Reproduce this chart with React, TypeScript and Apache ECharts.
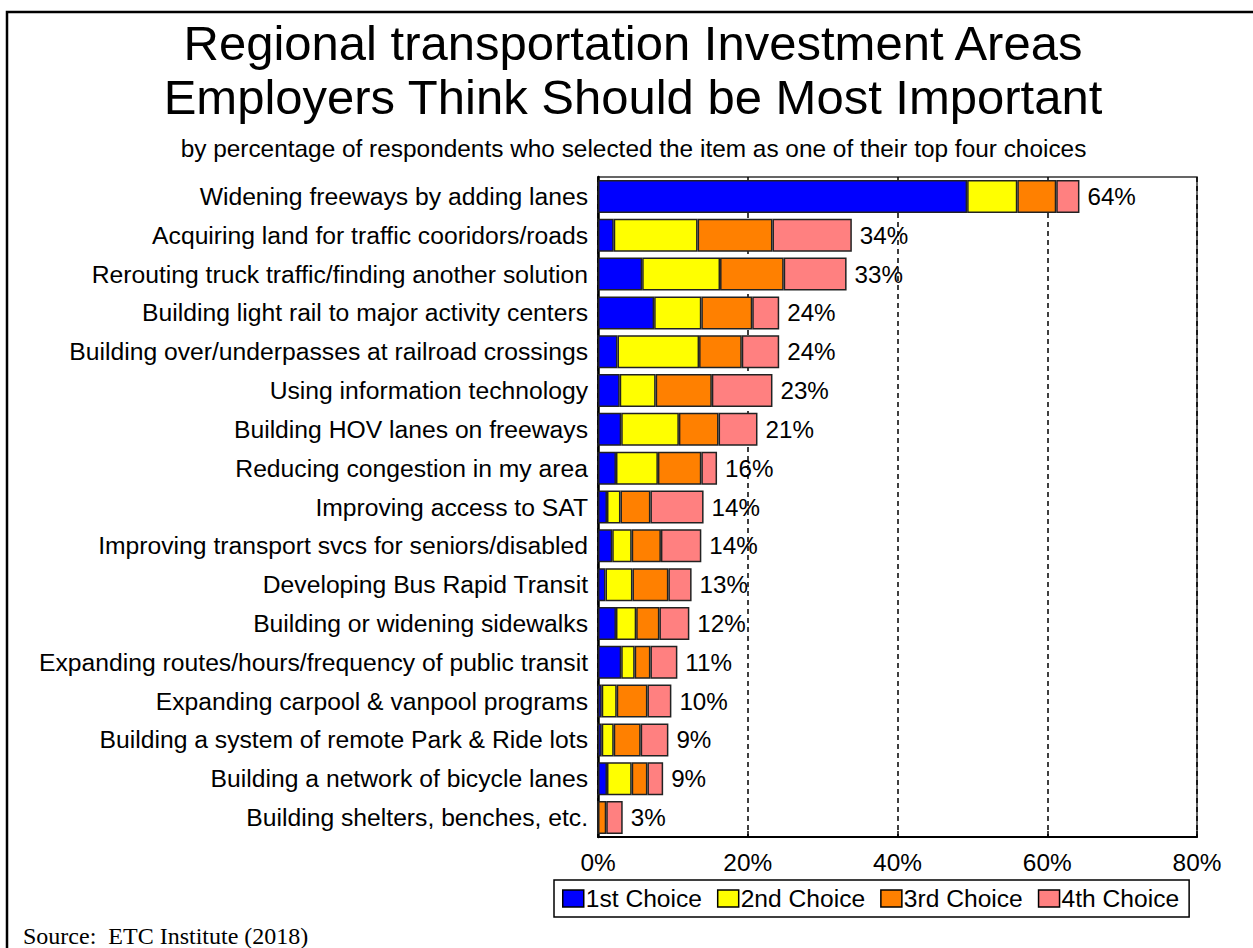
import React, { useEffect, useRef } from "react";
import * as echarts from "echarts";

const categories = [
  "Widening freeways by adding lanes",
  "Acquiring land for traffic cooridors/roads",
  "Rerouting truck traffic/finding another solution",
  "Building light rail to major activity centers",
  "Building over/underpasses at railroad crossings",
  "Using information technology",
  "Building HOV lanes on freeways",
  "Reducing congestion in my area",
  "Improving access to SAT",
  "Improving transport svcs for seniors/disabled",
  "Developing Bus Rapid Transit",
  "Building or widening sidewalks",
  "Expanding routes/hours/frequency of public transit",
  "Expanding carpool & vanpool programs",
  "Building a system of remote Park & Ride lots",
  "Building a network of bicycle lanes",
  "Building shelters, benches, etc.",
];

const firstChoice = [49.3, 2.1, 5.9, 7.5, 2.6, 2.9, 3.1, 2.4, 1.2, 1.9, 1.0, 2.4, 3.1, 0.5, 0.5, 1.2, 0];
const secondChoice = [6.7, 11.2, 10.4, 6.3, 10.9, 4.8, 7.7, 5.6, 1.8, 2.6, 3.6, 2.7, 1.8, 2.0, 1.6, 3.3, 0];
const thirdChoice = [5.2, 10.0, 8.5, 6.8, 5.7, 7.5, 5.3, 5.8, 4.0, 3.9, 4.8, 3.1, 2.1, 4.1, 3.6, 2.1, 1.1];
const fourthChoice = [3.1, 10.6, 8.4, 3.6, 5.0, 8.1, 5.2, 2.1, 7.1, 5.4, 3.1, 4.0, 3.6, 3.2, 3.7, 2.1, 2.2];
const totals = [64, 34, 33, 24, 24, 23, 21, 16, 14, 14, 13, 12, 11, 10, 9, 9, 3];

const seriesNames = ["1st Choice", "2nd Choice", "3rd Choice", "4th Choice"];
const seriesColors = ["#0000FF", "#FFFF00", "#FF8000", "#FF8080"];
const xTicks = [0, 20, 40, 60, 80];

const titleLines = [
  "Regional transportation Investment Areas",
  "Employers Think Should be Most Important",
];
const subtitle = "by percentage of respondents who selected the item as one of their top four choices";
const sourceText = "Source:  ETC Institute (2018)";

const FONT = "'Liberation Sans', Arial, sans-serif";

export default function App() {
  const ref = useRef<HTMLDivElement>(null);
  useEffect(() => {
    document.body.style.margin = "0";
    if (!ref.current) return;
    const chart = echarts.init(ref.current, null, { renderer: "svg" });
    const values = [firstChoice, secondChoice, thirdChoice, fourthChoice];
    const option: any = {
      animation: false,
      backgroundColor: "#ffffff",
      textStyle: { fontFamily: FONT },
      graphic: [
        {
          type: "rect",
          shape: { x: 7, y: 12, width: 1400, height: 1100 },
          style: { fill: "none", stroke: "#000", lineWidth: 2.5 },
          silent: true,
          z: 100,
        },
        {
          type: "text",
          x: 633,
          y: 43,
          style: {
            text: titleLines[0],
            font: `49px ${FONT}`,
            fill: "#000",
            textAlign: "center",
            textVerticalAlign: "middle",
          },
        },
        {
          type: "text",
          x: 633,
          y: 96.5,
          style: {
            text: titleLines[1],
            font: `49px ${FONT}`,
            fill: "#000",
            textAlign: "center",
            textVerticalAlign: "middle",
          },
        },
        {
          type: "text",
          x: 633.5,
          y: 148,
          style: {
            text: subtitle,
            font: `24.4px ${FONT}`,
            fill: "#000",
            textAlign: "center",
            textVerticalAlign: "middle",
          },
        },
        {
          type: "text",
          x: 23,
          y: 936,
          style: {
            text: sourceText,
            font: `24px 'Liberation Serif', 'Times New Roman', serif`,
            fill: "#000",
            textAlign: "left",
            textVerticalAlign: "middle",
          },
        },
      ],
      legend: {
        data: seriesNames,
        left: 554,
        top: 880,
        orient: "horizontal",
        padding: [6, 10, 6, 8],
        itemGap: 15,
        itemWidth: 21,
        itemHeight: 17,
        icon: "rect",
        borderColor: "#000",
        borderWidth: 1.5,
        backgroundColor: "#fff",
        textStyle: { fontSize: 24.6, color: "#000", fontFamily: FONT, padding: [0, 0, 0, -3] },
        itemStyle: { borderColor: "#000", borderWidth: 1.5 },
        selectedMode: false,
      },
      grid: {
        left: 598,
        right: 56,
        top: 177,
        bottom: 111,
        show: true,
        borderColor: "#333",
        borderWidth: 1.5,
        backgroundColor: "transparent",
        outerBoundsMode: "none",
      },
      xAxis: {
        type: "value",
        min: xTicks[0],
        max: xTicks[xTicks.length - 1],
        interval: 20,
        axisLine: { show: true, lineStyle: { color: "#000", width: 2 } },
        axisTick: { show: true, inside: true, length: 6, lineStyle: { color: "#000", width: 1.5 } },
        axisLabel: {
          formatter: "{value}%",
          fontSize: 24.4,
          color: "#000",
          margin: 13,
          fontFamily: FONT,
        },
        splitLine: { show: true, lineStyle: { color: "#000", type: [5, 4], width: 1.5 } },
      },
      yAxis: {
        type: "category",
        data: categories,
        inverse: true,
        axisLine: { show: true, lineStyle: { color: "#000", width: 2.5 } },
        axisTick: { show: false },
        axisLabel: { fontSize: 24.7, color: "#000", margin: 10, fontFamily: FONT },
        splitLine: { show: false },
      },
      series: seriesNames.map((name, i) => ({
        name,
        type: "bar",
        stack: "total",
        barWidth: 33,
        data: values[i],
        itemStyle: { color: seriesColors[i], borderColor: "#222", borderWidth: 1.5 },
        label:
          i === 3
            ? {
                show: true,
                position: "right",
                distance: 8,
                fontSize: 24.2,
                color: "#000",
                fontFamily: FONT,
                formatter: (p: any) => `${totals[p.dataIndex]}%`,
              }
            : { show: false },
        z: 3,
      })),
    };
    chart.setOption(option);
    return () => chart.dispose();
  }, []);
  return <div ref={ref} style={{ width: 1253, height: 948 }} />;
}
